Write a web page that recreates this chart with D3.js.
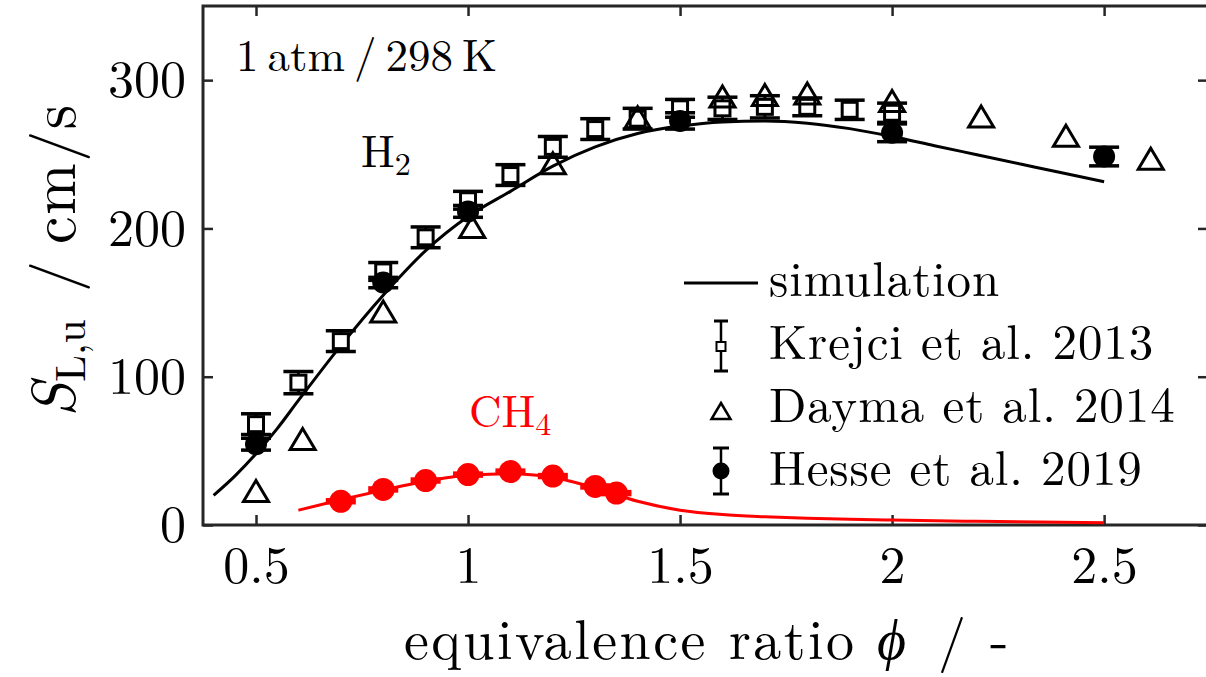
<!DOCTYPE html>
<html>
<head>
<meta charset="utf-8">
<script src="https://cdn.jsdelivr.net/npm/d3@7"></script>
<style>
  body { margin: 0; background: #fff; }
  svg { display: block; }
  text { font-family: "Latin Modern Roman", "CMU Serif", "Liberation Serif", serif; fill: #000; }
</style>
</head>
<body>
<svg id="chart" width="1206" height="677"></svg>
<script>
// simulation curves
const h2SimPhi = [0.4, 0.45, 0.5, 0.55, 0.6, 0.7, 0.8, 0.9, 1.0, 1.1, 1.2, 1.3, 1.4, 1.5, 1.6, 1.7, 1.8, 1.9, 2.0, 2.1, 2.2, 2.3, 2.4, 2.5]
const h2SimS   = [20, 33, 48, 65, 84, 121, 155, 185, 208, 225, 242, 255, 264, 269, 271.8, 272.5, 271, 267.3, 262, 255.8, 249.7, 243.6, 237.5, 231.5]
const ch4SimPhi = [0.6, 0.7, 0.8, 0.9, 1.0, 1.1, 1.2, 1.3, 1.4, 1.5, 1.6, 1.7, 1.8, 1.9, 2.0, 2.2, 2.4, 2.5]
const ch4SimS   = [10, 17, 23.5, 29.5, 33.5, 34.5, 32, 25, 16, 10, 7, 5.5, 4.5, 3.8, 3.3, 2.5, 1.8, 1.5]

// Krejci et al. 2013 (H2)
const krejciPhi = [0.5, 0.6, 0.7, 0.8, 0.9, 1.0, 1.1, 1.2, 1.3, 1.4, 1.5, 1.6, 1.7, 1.8, 1.9, 2.0]
const krejciS   = [68, 96, 124, 171, 194, 219, 236, 255, 267, 274, 281, 281, 282, 282, 280, 278]
const krejciErr = [7, 7.5, 7, 6, 7, 6, 7, 7, 7, 7, 6, 7.5, 7.5, 6, 6.5, 6.5]

// Dayma et al. 2014 (H2)
const daymaPhi = [0.5, 0.61, 0.8, 1.01, 1.2, 1.4, 1.6, 1.7, 1.8, 2.0, 2.21, 2.41, 2.61]
const daymaS   = [23, 58, 144, 201, 244, 275, 289, 290, 291, 286, 275.5, 262.5, 247]

// Hesse et al. 2019 (H2 and CH4)
const hesseH2Phi = [0.5, 0.8, 1.0, 1.5, 2.0, 2.5]
const hesseH2S   = [54.5, 163.5, 211.5, 272.5, 264.5, 248.5]
const hesseH2Err = [4, 3.5, 4, 5.5, 6, 6.3]
const hesseCH4Phi = [0.7, 0.8, 0.9, 1.0, 1.1, 1.2, 1.3, 1.35]
const hesseCH4S   = [16, 24, 30, 34, 36, 33, 26, 21.5]
const hesseCH4Err = [1, 1, 1, 1, 1, 1, 1, 1]

const xTicks = [0.5, 1, 1.5, 2, 2.5]
const yTicks = [0, 100, 200, 300]

const axisColor = "#262626"
const red = "#ff0000"

const svg = d3.select("#chart")

const x = d3.scaleLinear().domain([0.375, 2.745]).range([203, 1208])
const y = d3.scaleLinear().domain([0, 350]).range([525, 6])

const zip = (a, b, c) => a.map((v, i) => ({ phi: v, s: b[i], err: c ? c[i] : 0 }))

// axes, ticks pointing inwards like matlab
const styleAxis = (g) => {
  g.select(".domain").remove()
  g.selectAll(".tick line").attr("stroke", axisColor).attr("stroke-width", 2.5)
  g.selectAll(".tick text").attr("fill", "#000").style("font-size", "52px")
}
svg.append("g")
  .attr("transform", `translate(0,${y(0)})`)
  .call(d3.axisBottom(x).tickValues(xTicks).tickSize(-10).tickPadding(21).tickFormat(d => String(d)))
  .call(styleAxis)
svg.append("g")
  .attr("transform", `translate(${x(0.375)},0)`)
  .call(d3.axisLeft(y).tickValues(yTicks).tickSize(-10).tickPadding(17))
  .call(styleAxis)
svg.append("g")
  .attr("transform", `translate(0,${y(350)})`)
  .call(d3.axisTop(x).tickValues(xTicks).tickSize(-10).tickFormat(""))
  .call(styleAxis)
svg.append("g")
  .attr("transform", `translate(${x(2.745)},0)`)
  .call(d3.axisRight(y).tickValues(yTicks).tickSize(-10).tickFormat(""))
  .call(styleAxis)

// box
svg.append("rect")
  .attr("x", x(0.375)).attr("y", y(350))
  .attr("width", x(2.745) - x(0.375)).attr("height", y(0) - y(350))
  .attr("fill", "none").attr("stroke", axisColor).attr("stroke-width", 3)

// simulation lines
const line = d3.line().x(d => x(d.phi)).y(d => y(d.s)).curve(d3.curveMonotoneX)
svg.append("path").datum(zip(h2SimPhi, h2SimS))
  .attr("d", line).attr("fill", "none").attr("stroke", "#000").attr("stroke-width", 3)
svg.append("path").datum(zip(ch4SimPhi, ch4SimS))
  .attr("d", line).attr("fill", "none").attr("stroke", red).attr("stroke-width", 3)

// error bars helper
const errorBars = (data, color, capW) => {
  const g = svg.append("g").attr("stroke", color)
  data.forEach(d => {
    g.append("line")
      .attr("x1", x(d.phi)).attr("x2", x(d.phi))
      .attr("y1", y(d.s - d.err)).attr("y2", y(d.s + d.err))
      .attr("stroke-width", 3)
    ;[d.s - d.err, d.s + d.err].forEach(v => {
      g.append("line")
        .attr("x1", x(d.phi) - capW / 2).attr("x2", x(d.phi) + capW / 2)
        .attr("y1", y(v)).attr("y2", y(v))
        .attr("stroke-width", 3.5)
    })
  })
}

// Krejci: white squares with error bars
const krejci = zip(krejciPhi, krejciS, krejciErr)
errorBars(krejci, "#000", 30)
svg.append("g").selectAll("rect").data(krejci).join("rect")
  .attr("x", d => x(d.phi) - 7.5).attr("y", d => y(d.s) - 7.5)
  .attr("width", 15).attr("height", 15)
  .attr("fill", "#fff").attr("stroke", "#000").attr("stroke-width", 3)

// Dayma: open triangles
const tri = (w, h) => `M0,${-h / 2}L${w / 2},${h / 2}L${-w / 2},${h / 2}Z`
svg.append("g").selectAll("path").data(zip(daymaPhi, daymaS)).join("path")
  .attr("transform", d => `translate(${x(d.phi)},${y(d.s)})`)
  .attr("d", tri(25, 21))
  .attr("fill", "none").attr("stroke", "#000").attr("stroke-width", 3)

// Hesse: filled dots
const hesseH2 = zip(hesseH2Phi, hesseH2S, hesseH2Err)
errorBars(hesseH2, "#000", 30)
svg.append("g").selectAll("circle").data(hesseH2).join("circle")
  .attr("cx", d => x(d.phi)).attr("cy", d => y(d.s)).attr("r", 11)
  .attr("fill", "#000")

const hesseCH4 = zip(hesseCH4Phi, hesseCH4S, hesseCH4Err)
errorBars(hesseCH4, red, 30)
svg.append("g").selectAll("circle").data(hesseCH4).join("circle")
  .attr("cx", d => x(d.phi)).attr("cy", d => y(d.s)).attr("r", 11.5)
  .attr("fill", red)

// annotations
svg.append("text").attr("x", 236).attr("y", 71).style("font-size", "45px")
  .text("1\u2009atm\u2009/\u2009298\u2009K")

const h2 = svg.append("text").attr("x", 361).attr("y", 167).style("font-size", "45px")
h2.append("tspan").text("H")
h2.append("tspan").attr("dy", 8).style("font-size", "32px").text("2")

const ch4 = svg.append("text").attr("x", 469).attr("y", 427).style("font-size", "45px").style("fill", red)
ch4.append("tspan").text("CH")
ch4.append("tspan").attr("dy", 8).style("font-size", "32px").text("4")

// legend
const legX = 721
const leg = svg.append("g")
leg.append("line").attr("x1", 684).attr("x2", 758).attr("y1", 283).attr("y2", 283)
  .attr("stroke", "#000").attr("stroke-width", 3)

// Krejci symbol
leg.append("line").attr("x1", legX).attr("x2", legX).attr("y1", 321).attr("y2", 371).attr("stroke", "#000").attr("stroke-width", 2.5)
;[321, 371].forEach(v => leg.append("line").attr("x1", legX - 7).attr("x2", legX + 7).attr("y1", v).attr("y2", v).attr("stroke", "#000").attr("stroke-width", 3))
leg.append("rect").attr("x", legX - 4.5).attr("y", 342).attr("width", 9).attr("height", 9)
  .attr("fill", "#fff").attr("stroke", "#000").attr("stroke-width", 2)

// Dayma symbol
leg.append("path").attr("transform", `translate(${legX},411)`).attr("d", tri(19, 16))
  .attr("fill", "none").attr("stroke", "#000").attr("stroke-width", 2.5)

// Hesse symbol
leg.append("line").attr("x1", legX).attr("x2", legX).attr("y1", 448).attr("y2", 494).attr("stroke", "#000").attr("stroke-width", 2.5)
;[448, 494].forEach(v => leg.append("line").attr("x1", legX - 8).attr("x2", legX + 8).attr("y1", v).attr("y2", v).attr("stroke", "#000").attr("stroke-width", 3))
leg.append("circle").attr("cx", legX).attr("cy", 471).attr("r", 8.5).attr("fill", "#000")

const legendLabels = ["simulation", "Krejci et al. 2013", "Dayma et al. 2014", "Hesse et al. 2019"]
const legendBase = [296, 359, 422, 485]
leg.selectAll("text.lbl").data(legendLabels).join("text")
  .attr("class", "lbl")
  .attr("x", 769).attr("y", (d, i) => legendBase[i])
  .style("font-size", "49px").style("letter-spacing", "0.9px")
  .text(d => d)

// x label, pieces placed to follow the original spacing
const xlY = 659
svg.append("text").attr("x", 404).attr("y", xlY).style("font-size", "56px")
  .attr("textLength", 450).attr("lengthAdjust", "spacing")
  .text("equivalence ratio")
svg.append("text").attr("x", 877).attr("y", xlY).style("font-size", "56px").style("font-style", "italic")
  .text("\u03d5")
svg.append("text").attr("x", 938).attr("y", xlY).style("font-size", "56px").text("/")
svg.append("text").attr("x", 990).attr("y", xlY).style("font-size", "56px").text("-")

// y label, rotated, reading upwards from y = 420
const yl = svg.append("g").attr("transform", "translate(75,420) rotate(-90)")
yl.append("text").attr("x", 3).attr("y", 0).style("font-size", "62px").style("font-style", "italic").text("S")
yl.append("text").attr("x", 38).attr("y", 10).style("font-size", "43px").text("L,u")
yl.append("text").attr("x", 128).attr("y", 0).style("font-size", "62px").text("/")
yl.append("text").attr("x", 176).attr("y", 0).style("font-size", "62px").style("letter-spacing", "1.5px").text("cm/s")
</script>
</body>
</html>
